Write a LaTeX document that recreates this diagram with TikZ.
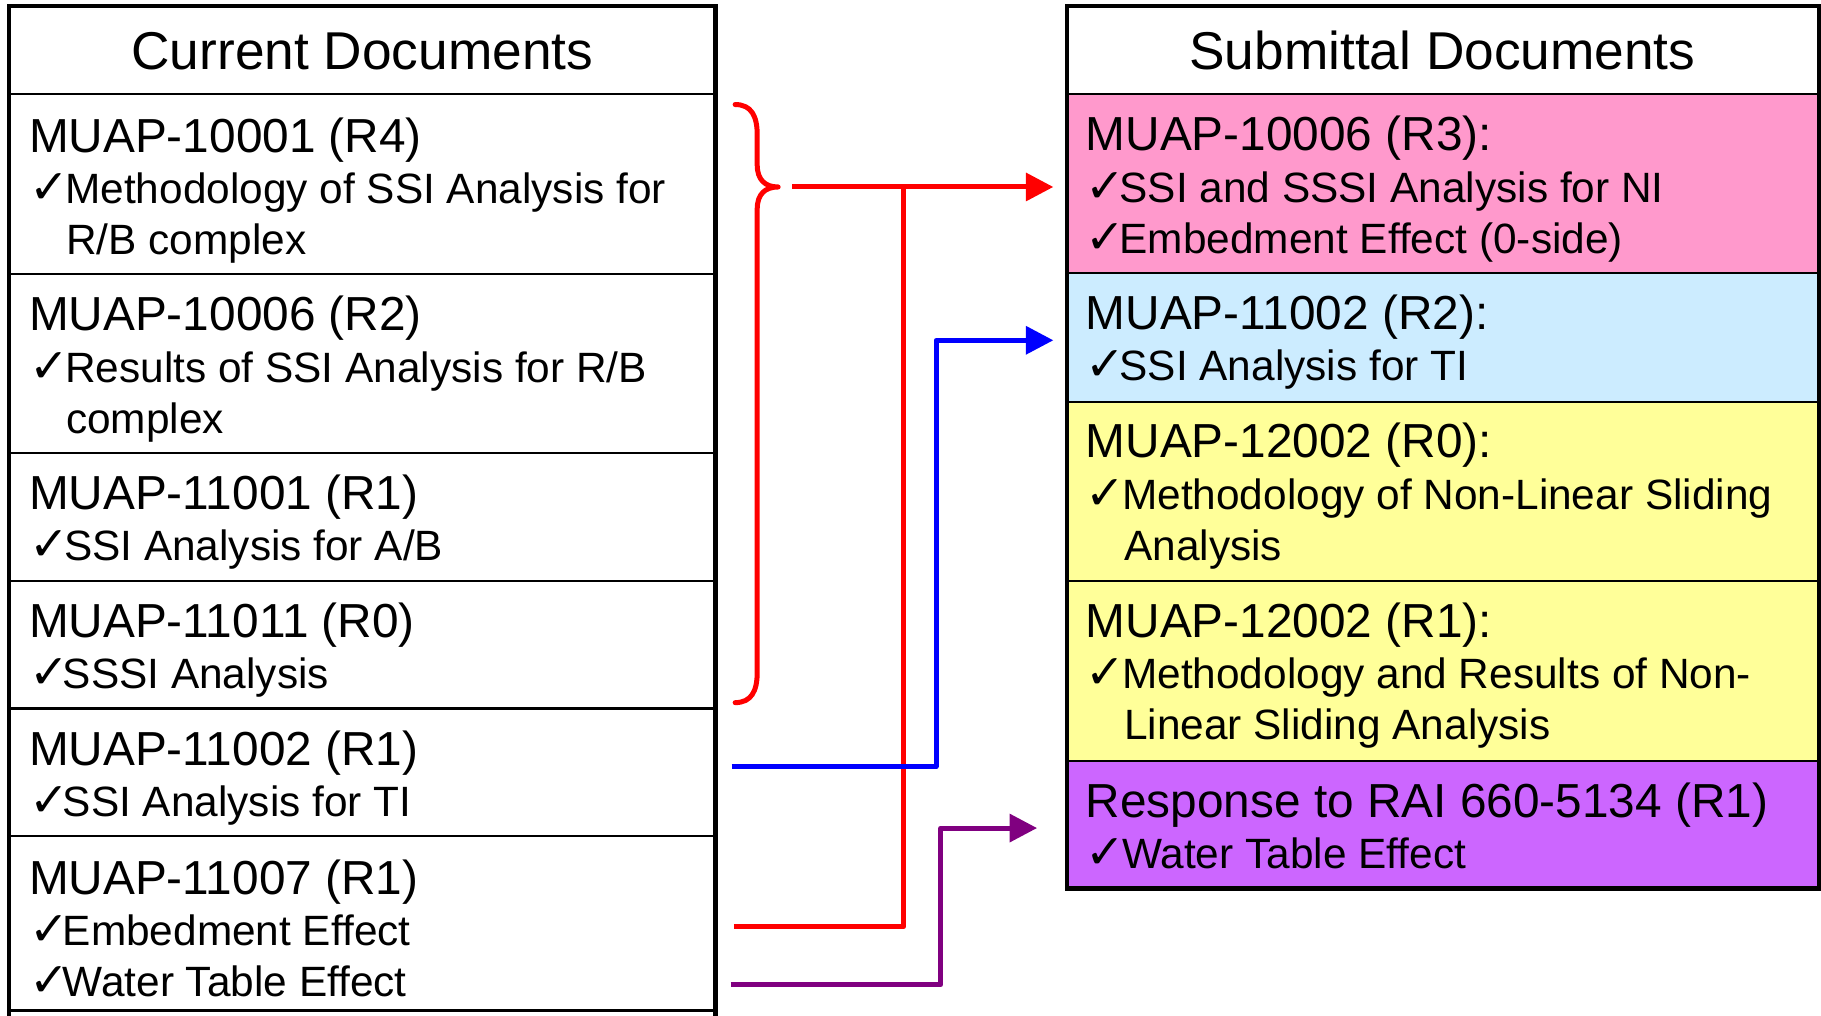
\documentclass[tikz,border=0pt]{standalone}
\usepackage{fontspec}
\setmainfont{Liberation Sans}
\newfontfamily\dvfont{DejaVu Sans}
\usetikzlibrary{arrows.meta}
\definecolor{cpink}{HTML}{FF99CC}
\definecolor{cblue}{HTML}{CCECFF}
\definecolor{cyel}{HTML}{FFFF99}
\definecolor{cpur}{HTML}{CC66FF}
\definecolor{cline}{HTML}{800080}
\newcommand\ckw[1]{\makebox[#1][l]{\dvfont\fontsize{19}{19}\selectfont ✓}}
\newcommand\ckm{\ckw{14.5pt}}
\tikzset{
  hd/.style={anchor=base west,inner sep=0pt,outer sep=0pt,font=\fontsize{19.1}{22}\selectfont},
  bl/.style={anchor=base west,inner sep=0pt,outer sep=0pt,font=\fontsize{16.95}{20}\selectfont},
  ttl/.style={anchor=base,inner sep=0pt,outer sep=0pt,font=\fontsize{21.3}{25}\selectfont},
  outer/.style={line width=1.7pt},
  divl/.style={line width=0.9pt},
  conn/.style={line width=2pt,line join=round},
  arr/.style={conn,-{Triangle[length=11pt,width=11pt]}},
}
\begin{document}
\begin{tikzpicture}[x=0.4645pt,y=-0.4645pt]
\useasboundingbox (0,0) rectangle (1568,874);
% ---------- left table ----------
\draw[divl] (8,81) -- (616,81);
\foreach \yy in {236,390,500,610,720} \draw[divl] (8,\yy) -- (616,\yy);
\draw[divl] (8,870) -- (616,870);
\draw[outer] (8,880) -- (8,5) -- (616,5) -- (616,880);
\node[ttl] (ltitle) at (312,60) {Current Documents};
% row 1
\node[hd] (l1h) at (25,131) {MUAP-10001 (R4)};
\node[bl] (l1a) at (25,175) {\ckm Methodology of SSI Analysis for};
\node[bl] (l1b) at (57,219) {R/B complex};
% row 2
\node[hd] (l2h) at (25,285) {MUAP-10006 (R2)};
\node[bl] (l2a) at (25,329) {\ckm Results of SSI Analysis for R/B};
\node[bl] (l2b) at (57,373) {complex};
% row 3
\node[hd] (l3h) at (25,439) {MUAP-11001 (R1)};
\node[bl] (l3a) at (25,483) {\ckw{14pt}SSI Analysis for A/B};
% row 4
\node[hd] (l4h) at (25,549) {MUAP-11011 (R0)};
\node[bl] (l4a) at (25,593) {\ckw{13.5pt}SSSI Analysis};
% row 5
\node[hd] (l5h) at (25,659) {MUAP-11002 (R1)};
\node[bl] (l5a) at (25,703) {\ckw{13.5pt}SSI Analysis for TI};
% row 6
\node[hd] (l6h) at (25,770) {MUAP-11007 (R1)};
\node[bl] (l6a) at (25,814) {\ckw{13.5pt}Embedment Effect};
\node[bl] (l6b) at (25,858) {\ckw{13.5pt}Water Table Effect};
% ---------- right table ----------
\fill[cpink] (919,81) rectangle (1566,235);
\fill[cblue] (919,235) rectangle (1566,346);
\fill[cyel] (919,346) rectangle (1566,655);
\fill[cpur] (919,655) rectangle (1566,765);
\foreach \yy in {81,235,346,500,655} \draw[divl] (919,\yy) -- (1566,\yy);
\draw[outer] (919,5) rectangle (1566,765);
\node[ttl] (rtitle) at (1242,60) {Submittal Documents};
\node[hd] (r1h) at (935,130) {MUAP-10006 (R3):};
\node[bl] (r1a) at (935,174) {\ckw{13.5pt}SSI and SSSI Analysis for NI};
\node[bl] (r1b) at (935,218) {\ckw{13.5pt}Embedment Effect (0-side)};
\node[hd] (r2h) at (935,284) {MUAP-11002 (R2):};
\node[bl] (r2a) at (935,328) {\ckw{13.5pt}SSI Analysis for TI};
\node[hd] (r3h) at (935,394) {MUAP-12002 (R0):};
\node[bl] (r3a) at (935,439) {\ckm Methodology of Non-Linear Sliding};
\node[bl] (r3b) at (968,483) {Analysis};
\node[hd] (r4h) at (935,549) {MUAP-12002 (R1):};
\node[bl] (r4a) at (935,593) {\ckm Methodology and Results of Non-};
\node[bl] (r4b) at (968,637) {Linear Sliding Analysis};
\node[hd] (r5h) at (935,704) {Response to RAI 660-5134 (R1)};
\node[bl] (r5a) at (935,748) {\ckm Water Table Effect};
% ---------- connectors ----------
\coordinate (rA) at (682,161);
\coordinate (rJ) at (778,161);
\coordinate (rT) at (907,161);
\coordinate (rB) at (632,798);
\coordinate (bS) at (630,660);
\coordinate (bK) at (806,293);
\coordinate (bT) at (907,293);
\coordinate (pS) at (629,848);
\coordinate (pK) at (810,713);
\coordinate (pT) at (893,713);
\draw[red,conn,line cap=round] (633,90) .. controls (647,90) and (652,100) .. (652,116) -- (652,142)
  .. controls (652,155) and (659,161) .. (670,161)
  .. controls (659,161) and (652,167) .. (652,180) -- (652,579)
  .. controls (652,595) and (647,605) .. (633,605);
\draw[red,conn] (rB) -| (rJ);
\draw[red,arr] (rA) -- (rT);
\draw[blue,arr] (bS) -| (bK) -- (bT);
\draw[cline,arr] (pS) -| (pK) -- (pT);
\end{tikzpicture}
\end{document}
